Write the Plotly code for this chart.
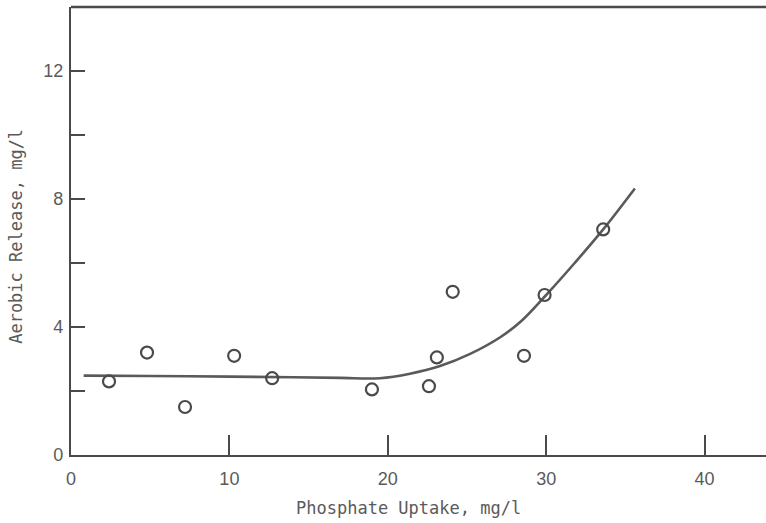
import plotly.graph_objects as go

# Measured points: phosphate uptake vs aerobic release (mg/l)
uptake = [2.4, 4.8, 7.2, 10.3, 12.7, 19.0, 22.6, 23.1, 24.1, 28.6, 29.9, 33.6]
release = [2.3, 3.2, 1.5, 3.1, 2.4, 2.05, 2.15, 3.05, 5.1, 3.1, 5.0, 7.05]

# Hand-fitted trend curve
curve_x = [0.8, 5, 10, 14, 17, 19.5, 21.4, 23.3, 25.2, 27.1, 28.4, 30.0, 31.8, 33.6, 35.6]
curve_y = [2.48, 2.47, 2.45, 2.43, 2.41, 2.40, 2.54, 2.78, 3.16, 3.68, 4.17, 5.0, 6.0, 7.05, 8.33]

x_ticks = [0, 10, 20, 30, 40]
y_ticks = [0, 2, 4, 6, 8, 10, 12]
y_labels = ["0", "", "4", "", "8", "", "12"]

ink = "#4a4a4a"
text_col = "#5a5a5a"

fig = go.Figure()
fig.add_trace(go.Scatter(
    x=curve_x, y=curve_y, mode="lines",
    line=dict(color="#5a5a5a", width=2.6, shape="spline", smoothing=1.0),
    hoverinfo="skip", showlegend=False,
))
fig.add_trace(go.Scatter(
    x=uptake, y=release, mode="markers",
    marker=dict(symbol="circle-open", size=12, color=ink, line=dict(width=2.2, color=ink)),
    showlegend=False,
))

axis_font = dict(family="Liberation Sans, Arial, sans-serif", size=18, color=text_col)

fig.update_xaxes(
    range=[0, 43.88], tickvals=x_ticks, ticktext=[str(v) for v in x_ticks],
    ticks="inside", ticklen=20, tickwidth=2, tickcolor=ink,
    showline=True, linecolor=ink, linewidth=2.2,
    showgrid=False, zeroline=False, tickfont=axis_font,
    ticklabelstandoff=6,
)
fig.update_yaxes(
    range=[0, 14], tickvals=y_ticks, ticktext=y_labels,
    ticks="inside", ticklen=14, tickwidth=2, tickcolor=ink,
    showline=True, linecolor=ink, linewidth=2.2,
    showgrid=False, zeroline=False, tickfont=axis_font,
    ticklabelstandoff=2,
)

title_font = dict(family="DejaVu Sans Mono, Liberation Mono, monospace", size=17, color=text_col)

fig.update_layout(
    width=766, height=523,
    margin=dict(l=71, r=0, t=7, b=68),
    paper_bgcolor="white", plot_bgcolor="white",
    shapes=[dict(type="line", xref="paper", yref="paper", x0=0, x1=1, y0=1, y1=1,
                 line=dict(color=ink, width=2.4))],
    annotations=[
        dict(text="Phosphate Uptake, mg/l", xref="paper", yref="paper",
             x=0.485, y=0, xanchor="center", yanchor="middle", yshift=-53,
             showarrow=False, font=title_font),
        dict(text="Aerobic Release, mg/l", xref="paper", yref="paper",
             x=0, y=0.487, xanchor="center", yanchor="middle", xshift=-55,
             textangle=-90, showarrow=False, font=title_font),
    ],
)

fig.write_html("out.html")
